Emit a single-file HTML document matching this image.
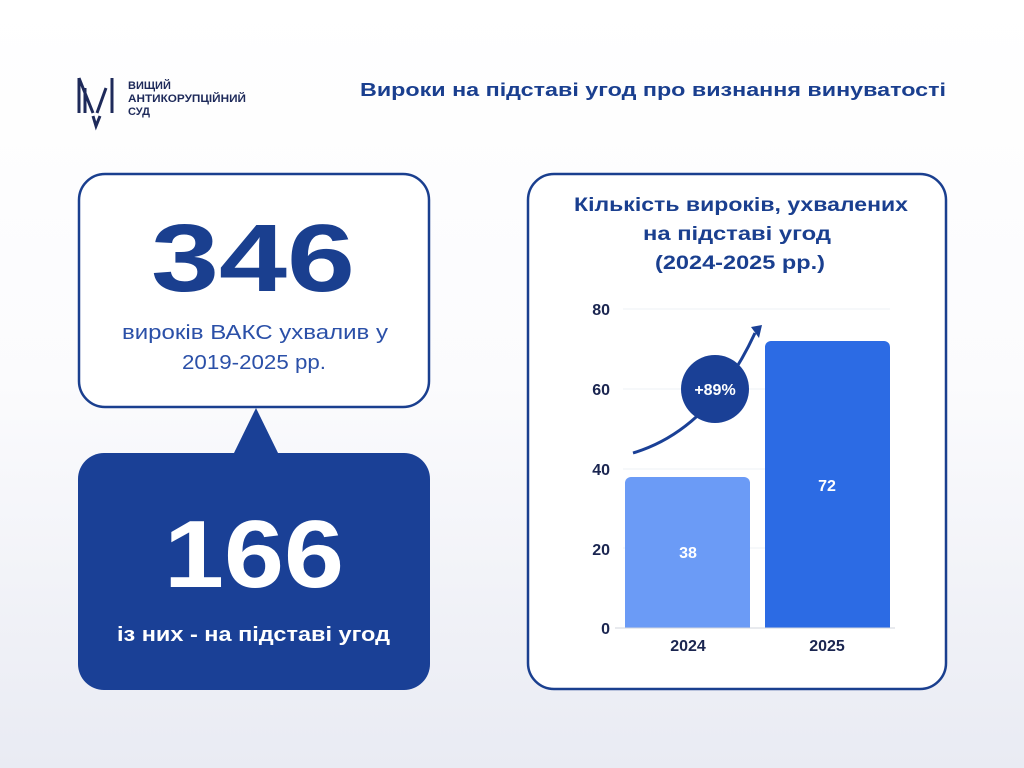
<!DOCTYPE html>
<html><head><meta charset="utf-8"><style>
body{margin:0;width:1024px;height:768px;overflow:hidden;font-family:"Liberation Sans",sans-serif;background:linear-gradient(#ffffff 0%,#fbfbfd 50%,#e9ebf3 100%);position:relative}
.abs{position:absolute}
</style></head><body>
<svg class="abs" style="left:0;top:0" width="1024" height="768">
<g stroke="#1e2a5a" stroke-width="3" fill="none">
<line x1="79" y1="78" x2="79" y2="113"/><line x1="79" y1="78" x2="93" y2="113"/>
<line x1="85" y1="88" x2="85" y2="113"/>
<line x1="112" y1="78" x2="112" y2="113"/><line x1="106" y1="88" x2="97" y2="113"/>
<path d="M93 116 L96 126 L100 116"/>
</g>
<text x="128" y="89" font-size="11" font-weight="bold" fill="#1e2a5a">ВИЩИЙ</text>
<text x="128" y="102" font-size="11" font-weight="bold" fill="#1e2a5a" textLength="118" lengthAdjust="spacingAndGlyphs">АНТИКОРУПЦІЙНИЙ</text>
<text x="128" y="115" font-size="11" font-weight="bold" fill="#1e2a5a">СУД</text>
<text x="360" y="96" font-size="18" font-weight="bold" fill="#1a3f8f" textLength="586" lengthAdjust="spacingAndGlyphs">Вироки на підставі угод про визнання винуватості</text>
<rect x="79" y="174" width="350" height="233" rx="26" fill="#fff" stroke="#1a3f8f" stroke-width="2.5"/>
<path d="M233 455 L256 408 L279 455 Z" fill="#1a4096"/>
<rect x="78" y="453" width="352" height="237" rx="26" fill="#1a4096"/>
<text x="151" y="291" font-size="96" font-weight="bold" fill="#1a3f8f" textLength="204" lengthAdjust="spacingAndGlyphs">346</text>
<text x="122" y="339" font-size="20" fill="#2b50a8" textLength="266" lengthAdjust="spacingAndGlyphs">вироків ВАКС ухвалив у</text>
<text x="254" y="369" text-anchor="middle" font-size="20" fill="#2b50a8" textLength="144" lengthAdjust="spacingAndGlyphs">2019-2025 рр.</text>
<text x="164" y="587" font-size="96" font-weight="bold" fill="#fff" textLength="180" lengthAdjust="spacingAndGlyphs">166</text>
<text x="117" y="641" font-size="20" font-weight="bold" fill="#fff" textLength="273" lengthAdjust="spacingAndGlyphs">із них - на підставі угод</text>
<rect x="528" y="174" width="418" height="515" rx="26" fill="#fff" stroke="#1a3f8f" stroke-width="2.5"/>
<text x="574" y="211" font-size="19" font-weight="bold" fill="#1a3f8f" textLength="334" lengthAdjust="spacingAndGlyphs">Кількість вироків, ухвалених</text>
<text x="643" y="240" font-size="19" font-weight="bold" fill="#1a3f8f" textLength="188" lengthAdjust="spacingAndGlyphs">на підставі угод</text>
<text x="655" y="269" font-size="19" font-weight="bold" fill="#1a3f8f" textLength="170" lengthAdjust="spacingAndGlyphs">(2024-2025 рр.)</text>
<g stroke="#eef0f5" stroke-width="1">
<line x1="623" y1="309" x2="890" y2="309"/><line x1="623" y1="389" x2="890" y2="389"/>
<line x1="623" y1="469" x2="890" y2="469"/><line x1="623" y1="548" x2="890" y2="548"/>
</g>
<g font-size="16" font-weight="bold" fill="#1a2550" text-anchor="end">
<text x="610" y="315">80</text><text x="610" y="395">60</text><text x="610" y="475">40</text><text x="610" y="555">20</text><text x="610" y="634">0</text>
</g>
<path d="M625 628 V483 a6 6 0 0 1 6 -6 H744 a6 6 0 0 1 6 6 V628 Z" fill="#6b9bf6"/>
<path d="M765 628 V347 a6 6 0 0 1 6 -6 H884 a6 6 0 0 1 6 6 V628 Z" fill="#2c6be4"/>
<line x1="615" y1="628" x2="895" y2="628" stroke="#d0d4de" stroke-width="1"/>
<text x="688" y="558" text-anchor="middle" font-size="16" font-weight="bold" fill="#fff">38</text>
<text x="827" y="491" text-anchor="middle" font-size="16" font-weight="bold" fill="#fff">72</text>
<text x="688" y="651" text-anchor="middle" font-size="16" font-weight="bold" fill="#1a2550">2024</text>
<text x="827" y="651" text-anchor="middle" font-size="16" font-weight="bold" fill="#1a2550">2025</text>
<path d="M633 453 Q710 430 755 333" stroke="#1a4096" stroke-width="3" fill="none"/>
<path d="M751 327 L762 325 L759 338 Z" fill="#1a4096"/>
<circle cx="715" cy="389" r="34" fill="#1a4096"/>
<text x="715" y="395" text-anchor="middle" font-size="16" font-weight="bold" fill="#fff">+89%</text>
</svg>
</body></html>
